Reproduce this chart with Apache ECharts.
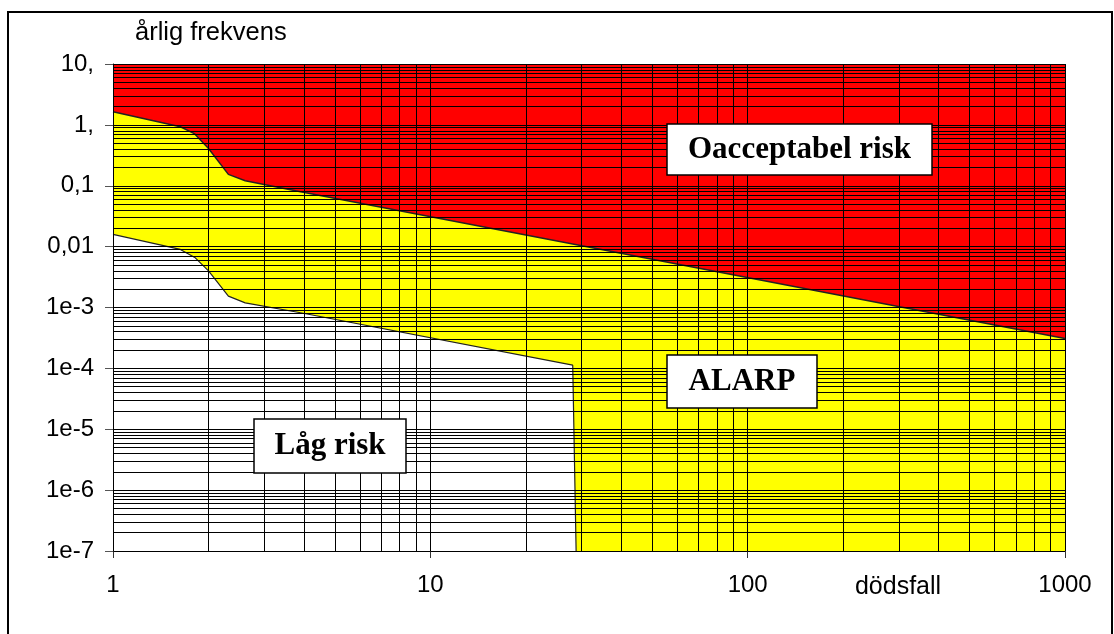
<!DOCTYPE html>
<html>
<head>
<meta charset="utf-8">
<script src="https://cdn.jsdelivr.net/npm/echarts@6/dist/echarts.min.js"></script>
<style>
html,body{margin:0;padding:0;background:#fff;}
#c{width:1114px;height:634px;}
</style>
</head>
<body>
<div id="c"></div>
<script>
// ---- data ----
const xTickLabels = ['1', '10', '100', '1000'];
const yTickLabels = ['1e-7', '1e-6', '1e-5', '1e-4', '1e-3', '0,01', '0,1', '1,', '10,'];
const upperX = [1, 1.63, 1.81, 2.0, 2.31, 2.61, 3.9, 1000];
const upperY = [1.64, 0.93, 0.71, 0.41, 0.154, 0.121, 0.08, 0.00031];
const lowerX = [1, 1.63, 1.81, 2.0, 2.31, 2.61, 3.9, 28.1, 28.8];
const lowerY = [0.0159, 0.009, 0.00665, 0.004, 0.00154, 0.00119, 0.00082, 0.000113, 1e-7];
const zoneLabels = ['Oacceptabel risk', 'ALARP', 'Låg risk'];
const xTitle = 'dödsfall';
const yTitle = 'årlig frekvens';
const gridMultipliers = [1, 2, 3, 4, 5, 6, 7, 8, 9];
const xDecades = [0, 1, 2];
const yDecades = [-7, -6, -5, -4, -3, -2, -1, 0];
const xMin = 1, xMax = 1000, yMin = 1e-7, yMax = 10;

const upper = upperX.map((x, i) => [x, upperY[i]]);
const lower = lowerX.map((x, i) => [x, lowerY[i]]);

const gridLines = [];
xDecades.forEach(e => gridMultipliers.forEach(m => {
  const v = m * Math.pow(10, e);
  gridLines.push({ coords: [[v, yMin], [v, yMax]] });
}));
gridLines.push({ coords: [[xMax, yMin], [xMax, yMax]] });
yDecades.forEach(e => gridMultipliers.forEach(m => {
  const v = m * Math.pow(10, e);
  gridLines.push({ coords: [[xMin, v], [xMax, v]] });
}));
gridLines.push({ coords: [[xMin, yMax], [xMax, yMax]] });

const expIdx = v => Math.round(Math.log10(v));

const chart = echarts.init(document.getElementById('c'));
const labelFont = { fontFamily: 'Liberation Sans, Arial, sans-serif', fontSize: 24, color: '#000' };
const boxText = { fontFamily: 'Liberation Serif, Times New Roman, serif', fontWeight: 'bold', fontSize: 31, fill: '#000' };

function box(x, y, w, h, text) {
  return {
    type: 'group', z: 100,
    children: [
      { type: 'rect', shape: { x: x, y: y, width: w, height: h }, style: { fill: '#fff', stroke: '#000', lineWidth: 1.5 }, z: 100 },
      { type: 'text', x: x + w / 2, y: y + h / 2, style: Object.assign({ text: text, textAlign: 'center', textVerticalAlign: 'middle' }, boxText), z: 101 }
    ]
  };
}

chart.setOption({
  animation: false,
  backgroundColor: '#fff',
  grid: { left: 113, right: 49, top: 64, bottom: 83, show: true, backgroundColor: '#ff0000', borderWidth: 0 },
  xAxis: {
    type: 'log', logBase: 10, min: xMin, max: xMax, interval: 1, splitNumber: 3,
    axisLine: { show: true, onZero: false, lineStyle: { color: '#000', width: 1 } },
    axisTick: { show: true, length: 7, lineStyle: { color: '#333' } },
    axisLabel: Object.assign({ margin: 22, formatter: v => xTickLabels[expIdx(v)] }, labelFont),
    splitLine: { show: false }
  },
  yAxis: {
    type: 'log', logBase: 10, min: yMin, max: yMax, interval: 1, splitNumber: 8,
    axisLine: { show: true, onZero: false, lineStyle: { color: '#000', width: 1 } },
    axisTick: { show: true, length: 8, lineStyle: { color: '#555' } },
    axisLabel: Object.assign({ margin: 19, formatter: v => yTickLabels[expIdx(v) + 7] }, labelFont),
    splitLine: { show: false }
  },
  series: [
    {
      type: 'line', data: upper, symbol: 'none', z: 2, silent: true,
      lineStyle: { color: '#222', width: 1.5 },
      areaStyle: { color: '#ffff00', opacity: 1, origin: 'start' }
    },
    {
      type: 'line', data: lower, symbol: 'none', z: 3, silent: true,
      lineStyle: { color: '#222', width: 1.2 },
      areaStyle: { color: '#ffffff', opacity: 1, origin: 'start' }
    },
    {
      type: 'lines', coordinateSystem: 'cartesian2d', z: 5, silent: true,
      polyline: false, symbol: ['none', 'none'],
      lineStyle: { color: '#000', width: 1, type: 'solid', opacity: 1 },
      data: gridLines
    }
  ],
  graphic: [
    { type: 'rect', shape: { x: 8, y: 12, width: 1104, height: 640 }, style: { fill: 'none', stroke: '#000', lineWidth: 2 }, z: 120, silent: true },
    { type: 'text', x: 135, y: 33, style: { text: yTitle, fontFamily: 'Liberation Sans, Arial, sans-serif', fontSize: 25.5, fill: '#000', textVerticalAlign: 'middle' }, z: 100 },
    { type: 'text', x: 898, y: 587, style: { text: xTitle, fontFamily: 'Liberation Sans, Arial, sans-serif', fontSize: 25, fill: '#000', textAlign: 'center', textVerticalAlign: 'middle' }, z: 100 },
    box(667, 124, 265, 51, zoneLabels[0]),
    box(667, 355, 150, 53, zoneLabels[1]),
    box(254, 419, 152, 54, zoneLabels[2])
  ]
});
</script>
</body>
</html>
